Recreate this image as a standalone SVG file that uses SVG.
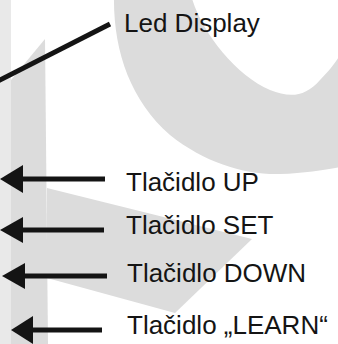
<svg xmlns="http://www.w3.org/2000/svg" width="338" height="344" viewBox="0 0 338 344">
<style>
.bg{fill:#dcdcdc;stroke:none}
.lbl{font-family:"Liberation Sans",Arial,sans-serif;font-size:26px;fill:#141414}
.ln{stroke:#141414;stroke-width:5;fill:none}
.hd{fill:#141414}
</style>
<rect width="338" height="344" fill="#ffffff"/>
<g id="background">
<rect x="0" y="0" width="11" height="344" fill="#e9e9e9"/>
<polygon class="bg" points="11,80 45,39 48,344 11,344"/>
<polygon class="bg" points="47,188 252,239 175,313 47,278"/>
<path class="bg" fill-rule="evenodd" d="M114,-5 C113,50 130,100 170,135 C205,163 245,175 280,174 C305,173 325,170 340,167 L340,-5 Z M191,-5 C200,30 235,75 270,90 C290,98 305,97 320,80 C330,70 336,62 340,55 L340,-5 Z"/>
</g>
<g id="connectors">
<line class="ln" x1="-2" y1="81" x2="110" y2="24"/>
<line class="ln" x1="20" y1="179" x2="105" y2="179"/>
<polygon class="hd" points="0,179 23,165 23,193"/>
<line class="ln" x1="20" y1="230" x2="104" y2="230"/>
<polygon class="hd" points="0,230 23,217 23,243"/>
<line class="ln" x1="22" y1="276" x2="107" y2="276"/>
<polygon class="hd" points="2,276 25,263 25,289"/>
<line class="ln" x1="30" y1="330" x2="102" y2="330"/>
<polygon class="hd" points="11,330 33,316 33,344"/>
</g>
<g id="led-display"><text class="lbl" x="124" y="32">Led Display</text></g>
<g id="btn-up"><text class="lbl" x="126" y="191">Tlačidlo UP</text></g>
<g id="btn-set"><text class="lbl" x="126" y="234">Tlačidlo SET</text></g>
<g id="btn-down"><text class="lbl" x="127" y="282">Tlačidlo DOWN</text></g>
<g id="btn-learn"><text class="lbl" x="127" y="334">Tlačidlo „LEARN“</text></g>
</svg>
